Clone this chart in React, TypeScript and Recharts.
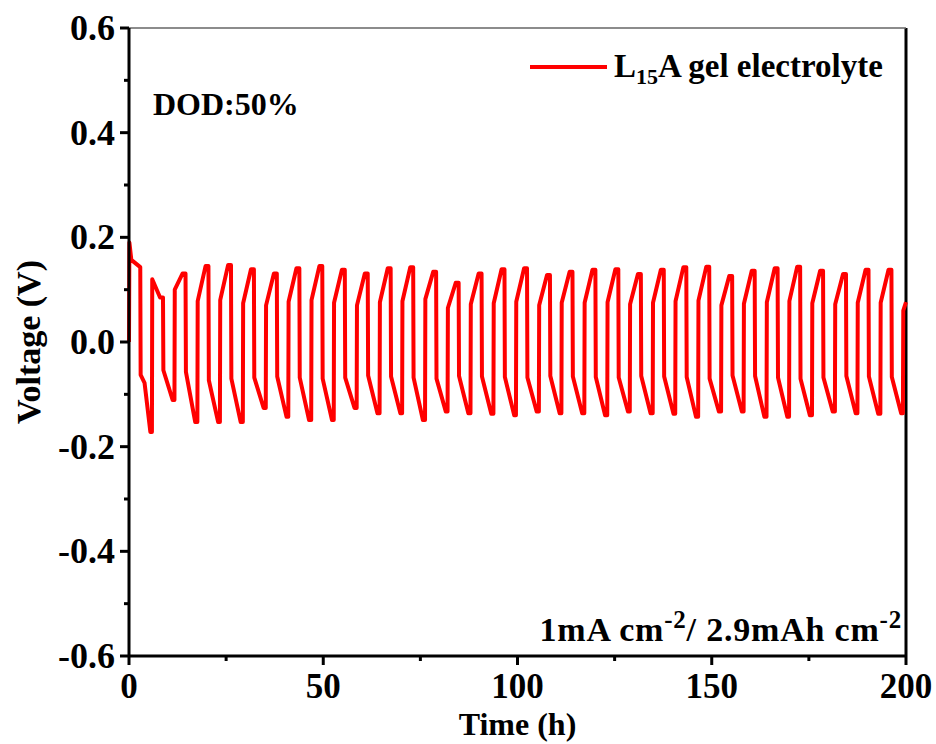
import { LineChart, Line, XAxis, YAxis, ReferenceLine } from 'recharts'

// first half cycle (before the regular cycling starts)
const initTimes = [0, 0.1, 0.6, 2.9, 3.0, 4.0, 5.5]
const initVolts = [0.0, 0.19, 0.157, 0.143, -0.063, -0.078, -0.172]

// time (h) of each rising edge
const cycleStart = [
  5.9, 11.7, 17.6, 23.4, 29.3, 35.2, 41.0, 46.9, 52.7, 58.6, 64.5, 70.3, 76.2, 82.0, 87.9, 93.8, 99.6,
  105.5, 111.3, 117.2, 123.1, 128.9, 134.8, 140.6, 146.5, 152.4, 158.2, 164.1, 169.9, 175.8, 181.7, 187.5,
  193.4, 199.2,
]
// voltage reached right after the rising edge
const riseV = [
  0.12, 0.1, 0.078, 0.08, 0.074, 0.07, 0.077, 0.08, 0.075, 0.07, 0.076, 0.078, 0.082, 0.065, 0.072, 0.074,
  0.077, 0.07, 0.075, 0.075, 0.076, 0.072, 0.075, 0.078, 0.079, 0.07, 0.073, 0.076, 0.078, 0.074, 0.072,
  0.075, 0.075, 0.076,
]
// top of each cycle
const peakV = [
  0.085, 0.131, 0.145, 0.147, 0.139, 0.131, 0.141, 0.145, 0.138, 0.131, 0.141, 0.143, 0.134, 0.113, 0.131,
  0.139, 0.141, 0.128, 0.134, 0.138, 0.139, 0.13, 0.138, 0.143, 0.144, 0.126, 0.136, 0.141, 0.144, 0.136,
  0.13, 0.138, 0.138,
]
// voltage right after the falling edge
const dropV = [
  -0.054, -0.057, -0.073, -0.07, -0.068, -0.066, -0.068, -0.07, -0.068, -0.064, -0.066, -0.068, -0.07,
  -0.065, -0.066, -0.067, -0.068, -0.065, -0.066, -0.067, -0.068, -0.065, -0.066, -0.067, -0.07, -0.064,
  -0.065, -0.068, -0.07, -0.068, -0.065, -0.066, -0.067,
]
// bottom before each rising edge
const troughV = [
  -0.172, -0.111, -0.153, -0.153, -0.153, -0.126, -0.143, -0.149, -0.149, -0.126, -0.136, -0.136, -0.149,
  -0.133, -0.136, -0.137, -0.14, -0.133, -0.136, -0.136, -0.14, -0.133, -0.136, -0.137, -0.143, -0.133,
  -0.133, -0.143, -0.143, -0.14, -0.133, -0.136, -0.137, -0.136,
]
const lastT = [199.3, 200]
const lastV = [0.06, 0.076]

const xTicks = [0, 25, 50, 75, 100, 125, 150, 175, 200]
const yTicks = [-0.6, -0.5, -0.4, -0.3, -0.2, -0.1, 0, 0.1, 0.2, 0.3, 0.4, 0.5, 0.6]

const data: { t: number; v: number }[] = []
initTimes.forEach((t, i) => data.push({ t, v: initVolts[i] }))
cycleStart.forEach((t0, k) => {
  data.push({ t: t0, v: troughV[k] })
  if (k < peakV.length) {
    data.push({ t: t0 + 0.08, v: riseV[k] })
    data.push({ t: t0 + 2.1, v: peakV[k] })
    data.push({ t: t0 + 2.85, v: peakV[k] })
    data.push({ t: t0 + 2.95, v: dropV[k] })
    data.push({ t: t0 + 5.35, v: troughV[k + 1] })
  }
})
lastT.forEach((t, i) => data.push({ t, v: lastV[i] }))

const font = "'Times New Roman', 'Liberation Serif', serif"

const XTick = (props: any) => {
  const { x, y, payload } = props
  const major = payload.value % 50 === 0
  return (
    <g>
      <line x1={x} x2={x} y1={y} y2={y + (major ? 9 : 5)} stroke="#000" strokeWidth={3} />
      {major && (
        <text x={x} y={y + 42} textAnchor="middle" fontFamily={font} fontWeight="bold" fontSize={35} fill="#000">
          {payload.value}
        </text>
      )}
    </g>
  )
}

const YTick = (props: any) => {
  const { x, y, payload } = props
  const major = Math.round(payload.value * 10) % 2 === 0
  return (
    <g>
      <line x1={x - (major ? 9 : 5)} x2={x} y1={y} y2={y} stroke="#000" strokeWidth={3} />
      {major && (
        <text x={x - 14} y={y + 12} textAnchor="end" fontFamily={font} fontWeight="bold" fontSize={36} fill="#000">
          {payload.value.toFixed(1)}
        </text>
      )}
    </g>
  )
}

const textStyle: React.CSSProperties = {
  position: 'absolute',
  fontFamily: font,
  fontWeight: 'bold',
  fontSize: 32,
  lineHeight: '32px',
  color: '#000',
  whiteSpace: 'nowrap',
}

const supStyle: React.CSSProperties = { fontSize: 25, verticalAlign: 13, lineHeight: 0 }

export default function App() {
  return (
    <div style={{ position: 'absolute', left: 0, top: 0, width: 936, height: 744, background: '#fff' }}>
      <LineChart width={936} height={744} data={data} margin={{ top: 28, right: 30, bottom: 0, left: 0 }}>
        <XAxis
          dataKey="t"
          type="number"
          domain={[0, 200]}
          ticks={xTicks}
          interval={0}
          height={88}
          tickSize={0}
          tickMargin={0}
          tickLine={false}
          tick={<XTick />}
          axisLine={{ stroke: '#000', strokeWidth: 3 }}
          label={{ value: 'Time (h)', position: 'insideBottom', offset: 9, fontFamily: font, fontWeight: 'bold', fontSize: 32, fill: '#000' }}
        />
        <YAxis
          type="number"
          domain={[-0.6, 0.6]}
          ticks={yTicks}
          interval={0}
          width={129}
          tickSize={0}
          tickMargin={0}
          tickLine={false}
          tick={<YTick />}
          axisLine={{ stroke: '#000', strokeWidth: 3 }}
          label={{ value: 'Voltage (V)', angle: -90, position: 'insideLeft', offset: 28, style: { textAnchor: 'middle' }, fontFamily: font, fontWeight: 'bold', fontSize: 34, fill: '#000' }}
        />
        <ReferenceLine x={200} stroke="#000" strokeWidth={3} />
        <ReferenceLine y={0.6} stroke="#666" strokeWidth={1.5} />
        <Line
          type="linear"
          dataKey="v"
          stroke="#ff0000"
          strokeWidth={4}
          strokeLinejoin="round"
          dot={false}
          isAnimationActive={false}
        />
      </LineChart>
      <div style={{ position: 'absolute', left: 530, top: 65, width: 77, height: 4, background: '#ff0000' }} />
      <div style={{ ...textStyle, fontSize: 33, left: 614, top: 50 }}>
        L<sub style={{ fontSize: 22, verticalAlign: -7, lineHeight: 0 }}>15</sub>A gel electrolyte
      </div>
      <div style={{ ...textStyle, left: 153, top: 88 }}>DOD:50%</div>
      <div style={{ ...textStyle, fontSize: 34, right: 34, top: 614, letterSpacing: 0.8 }}>
        1mA cm<sup style={supStyle}>-2</sup>/ 2.9mAh cm<sup style={supStyle}>-2</sup>
      </div>
    </div>
  )
}
